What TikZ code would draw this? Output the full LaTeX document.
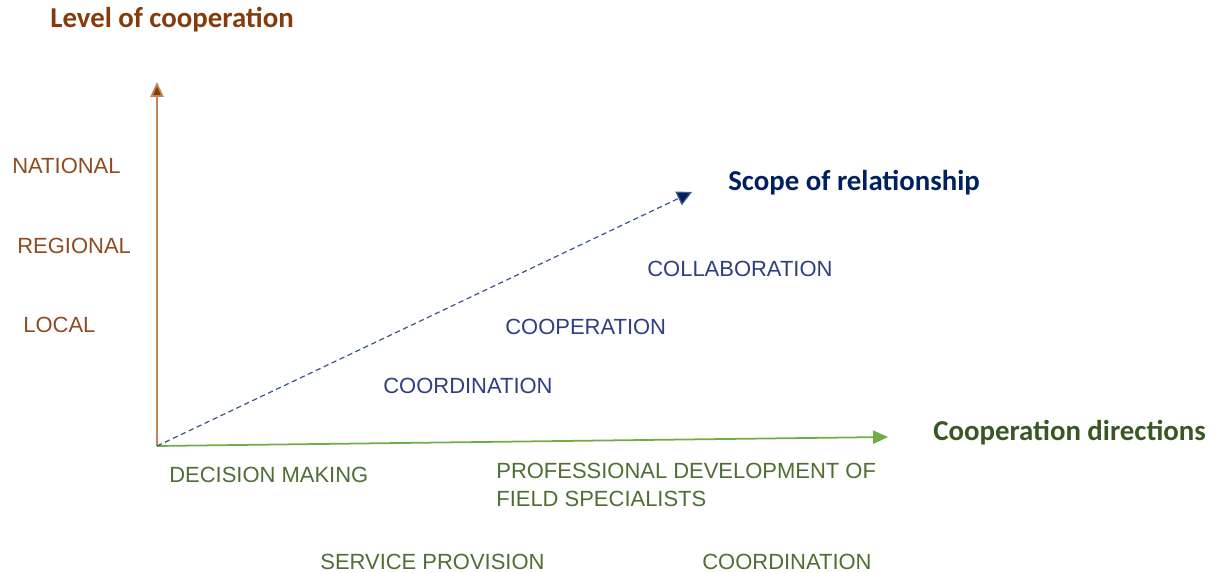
\documentclass[tikz,border=0pt]{standalone}
\usepackage{fontspec}
\setmainfont{Liberation Sans}
\newfontfamily\titlefont{Carlito}
\usepackage{xcolor}
\usepackage{tikz}
\usetikzlibrary{arrows.meta}

\definecolor{levelbrown}{HTML}{843C0C}
\definecolor{levelline}{HTML}{C0845A}
\definecolor{levelText}{HTML}{8E4B22}
\definecolor{scopenavy}{HTML}{002060}
\definecolor{scopeText}{HTML}{2F3E80}
\definecolor{dirgreen}{HTML}{385723}
\definecolor{dirline}{HTML}{70AD47}
\definecolor{dirText}{HTML}{4E6E34}

\begin{document}
\begin{tikzpicture}[
    x=1cm, y=1cm,
    axistitle/.style={font=\titlefont\fontsize{16.4}{18}\selectfont\bfseries,
                      anchor=west, inner sep=0pt},
    lbl/.style={font=\fontsize{12.5}{16.4}\selectfont, anchor=west,
                inner sep=0pt, align=left},
    axis/.style={line width=1pt, -{Triangle[length=8.5pt,width=7.5pt]}},
  ]
  \useasboundingbox (0,0) rectangle (24.32,11.46);

  % Axes
  \coordinate (origin) at (3.14,2.54);
  \coordinate (leveltip) at (3.14,9.82);
  \coordinate (dirtip) at (17.76,2.72);
  \coordinate (scopetip) at (13.84,7.62);

  \draw[axis, levelline, -{Triangle[length=8.5pt,width=7.5pt,fill=levelbrown]}]
    (origin) -- (leveltip);
  \draw[axis, dirline] (origin) -- (dirtip);
  \draw[axis, scopenavy!75, line width=0.7pt, dashed,
        dash pattern=on 3pt off 2pt,
        -{Triangle[length=8.5pt,width=8.5pt,fill=scopenavy]}]
    (origin) -- (scopetip);

  % Axis titles
  \node[axistitle, text=levelbrown] (leveltitle) at (1.0,11.06)
    {Level of cooperation};
  \node[axistitle, text=scopenavy] (scopetitle) at (14.56,7.80)
    {Scope of relationship};
  \node[axistitle, text=dirgreen] (dirtitle) at (18.66,2.80)
    {Cooperation directions};

  % Levels
  \node[lbl, text=levelText] (national) at (0.24,8.14) {NATIONAL};
  \node[lbl, text=levelText] (regional) at (0.34,6.54) {REGIONAL};
  \node[lbl, text=levelText] (local) at (0.46,4.96) {LOCAL};

  % Scope
  \node[lbl, text=scopeText] (collab) at (12.94,6.08) {COLLABORATION};
  \node[lbl, text=scopeText] (coop) at (10.10,4.92) {COOPERATION};
  \node[lbl, text=scopeText] (coord) at (7.66,3.74) {COORDINATION};

  % Directions
  \node[lbl, text=dirText] (decision) at (3.38,1.96) {DECISION MAKING};
  \node[lbl, text=dirText] (profdev) at (9.92,1.76)
    {PROFESSIONAL DEVELOPMENT OF\\FIELD SPECIALISTS};
  \node[lbl, text=dirText] (service) at (6.40,0.22) {SERVICE PROVISION};
  \node[lbl, text=dirText] (dircoord) at (14.04,0.22) {COORDINATION};

\end{tikzpicture}
\end{document}
